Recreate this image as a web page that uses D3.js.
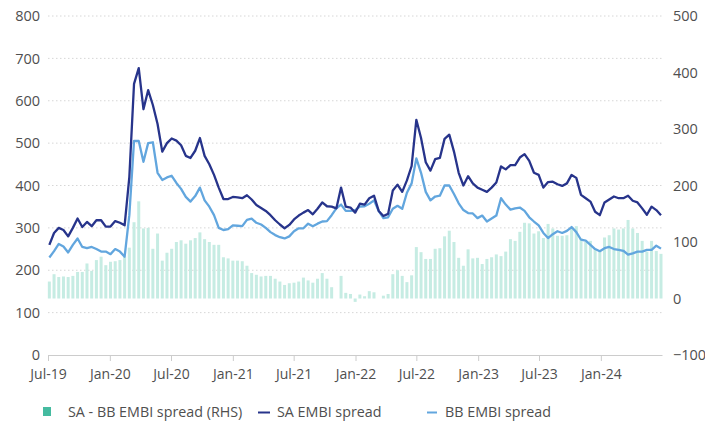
<!DOCTYPE html>
<html>
<head>
<meta charset="utf-8">
<script src="https://cdn.jsdelivr.net/npm/d3@7"></script>
<style>
  html, body { margin: 0; padding: 0; background: #ffffff; }
  svg { display: block; font-family: "Open Sans", "Noto Sans", sans-serif; }
</style>
</head>
<body>
<svg id="chart" width="705" height="426"></svg>
<script>
// ---- Data (bi-weekly observations, bp) ----
const startDate = new Date(2019, 6, 5);
const stepDays = 14;

const saSpread = [
  260,288,300,295,280,300,322,302,314,304,
  318,318,303,303,316,312,306,420,640,677,
  580,625,590,545,480,500,511,506,495,470,
  465,482,512,470,450,425,395,368,368,373,
  372,370,377,367,354,347,340,330,318,308,
  299,307,320,329,336,342,332,345,360,351,
  350,346,395,350,348,336,357,355,370,376,
  340,328,333,388,402,385,412,446,555,512,
  455,435,462,465,510,520,480,430,400,422,
  405,395,390,385,395,407,445,438,448,448,
  466,474,458,430,425,395,408,409,403,399,
  405,425,418,378,370,362,338,330,360,367,
  374,370,370,376,364,360,346,331,350,342,
  330
];

const bbSpread = [
  230,245,262,256,242,260,275,255,252,255,
  250,244,244,238,250,244,232,330,505,505,
  456,500,502,430,413,419,423,406,392,373,
  362,375,395,365,350,330,300,295,297,306,
  305,304,319,322,312,308,300,290,283,278,
  275,280,292,299,299,310,304,310,315,316,
  330,346,355,340,340,342,350,351,357,365,
  340,323,325,345,352,345,383,405,464,430,
  385,365,374,376,400,400,380,358,342,335,
  334,323,329,315,322,329,370,355,343,346,
  348,340,325,315,306,288,276,285,292,288,
  293,302,290,272,270,260,250,245,252,255,
  250,248,246,237,240,244,244,248,248,258,
  251
];

const xTickDates = ["2019-07-01","2020-01-01","2020-07-01","2021-01-01","2021-07-01",
                    "2022-01-01","2022-07-01","2023-01-01","2023-07-01","2024-01-01"];
const xTickLabels = ["Jul-19","Jan-20","Jul-20","Jan-21","Jul-21",
                     "Jan-22","Jul-22","Jan-23","Jul-23","Jan-24"];
const leftTicks = [0,100,200,300,400,500,600,700,800];
const rightTicks = [-100,0,100,200,300,400,500];
const legendLabels = ["SA - BB EMBI spread (RHS)", "SA EMBI spread", "BB EMBI spread"];

// ---- Derived ----
const dates = saSpread.map((_, i) => d3.timeDay.offset(startDate, stepDays * i));
const spreadDiff = saSpread.map((v, i) => v - bbSpread[i]); // SA - BB (RHS)

// ---- Layout ----
const svg = d3.select("#chart");
const plotLeft = 48, plotRight = 662, plotTop = 16, plotBottom = 355;

const parse = d3.utcParse("%Y-%m-%d");
const x = d3.scaleTime()
  .domain([new Date(2019, 6, 1), new Date(2024, 6, 1)])
  .range([plotLeft, plotRight]);
const yL = d3.scaleLinear().domain([0, 800]).range([plotBottom, plotTop]);
const yR = d3.scaleLinear().domain([-100, 500]).range([plotBottom, plotTop]);

const colSA = "#27348b";
const colBB = "#62a6de";
const colBar = "#c6ece3";
const colSwatch = "#45bba0";
const txt = "#4f4f4f";
const font = "'Open Sans', sans-serif";

// gridlines
svg.append("g").selectAll("line")
  .data(leftTicks.filter(d => d > 0))
  .join("line")
  .attr("x1", plotLeft).attr("x2", plotRight)
  .attr("y1", d => yL(d)).attr("y2", d => yL(d))
  .attr("stroke", "#d6d6d6").attr("stroke-width", 1)
  .attr("stroke-dasharray", "1.5,2.5");

// bars
svg.append("g").selectAll("rect")
  .data(spreadDiff.map((v, i) => ({ d: dates[i], v })))
  .join("rect")
  .attr("x", p => x(p.d) - 1.5)
  .attr("width", 3)
  .attr("y", p => yR(Math.max(p.v, 0)))
  .attr("height", p => Math.abs(yR(p.v) - yR(0)))
  .attr("fill", colBar);

// lines
const line = (arr, scale) => d3.line()
  .x((v, i) => x(dates[i]))
  .y(v => scale(v))
  .curve(d3.curveLinear)(arr);

svg.append("path").attr("d", line(bbSpread, yL))
  .attr("fill", "none").attr("stroke", colBB).attr("stroke-width", 2.3)
  .attr("stroke-linejoin", "round");
svg.append("path").attr("d", line(saSpread, yL))
  .attr("fill", "none").attr("stroke", colSA).attr("stroke-width", 2.3)
  .attr("stroke-linejoin", "round");

// x axis
const xTicks = xTickDates.map(s => { const d = parse(s); return new Date(d.getUTCFullYear(), d.getUTCMonth(), d.getUTCDate()); });
const xAxis = d3.axisBottom(x)
  .tickValues(xTicks)
  .tickFormat((d, i) => xTickLabels[i])
  .tickSize(6).tickSizeOuter(0).tickPadding(8);
const gx = svg.append("g").attr("transform", `translate(0,${plotBottom})`).call(xAxis);
gx.select(".domain").attr("stroke", "#cccccc");
gx.selectAll(".tick line").attr("stroke", "#cccccc");
gx.selectAll(".tick text").attr("fill", txt).style("font-size", "14px")
  .style("font-family", font);

// left axis
const gl = svg.append("g").attr("transform", `translate(${plotLeft - 8},0)`)
  .call(d3.axisLeft(yL).tickValues(leftTicks).tickSize(0).tickPadding(0));
gl.select(".domain").remove();
gl.selectAll(".tick text").attr("fill", txt).style("font-size", "14.5px")
  .style("font-family", font);

// right axis
const gr = svg.append("g").attr("transform", `translate(${plotRight + 11},0)`)
  .call(d3.axisRight(yR).tickValues(rightTicks).tickSize(0).tickPadding(0));
gr.select(".domain").remove();
gr.selectAll(".tick text").attr("fill", txt).style("font-size", "14.5px")
  .style("font-family", font);

// legend
const lg = svg.append("g").style("font-family", font).style("font-size", "14.3px");
lg.append("rect").attr("x", 43).attr("y", 407).attr("width", 8).attr("height", 9).attr("fill", colSwatch);
lg.append("text").attr("x", 68).attr("y", 417).attr("fill", txt).text(legendLabels[0]);
lg.append("line").attr("x1", 258).attr("x2", 270).attr("y1", 412.5).attr("y2", 412.5)
  .attr("stroke", colSA).attr("stroke-width", 2);
lg.append("text").attr("x", 277).attr("y", 417).attr("fill", txt).text(legendLabels[1]);
lg.append("line").attr("x1", 427).attr("x2", 437).attr("y1", 412.5).attr("y2", 412.5)
  .attr("stroke", colBB).attr("stroke-width", 2);
lg.append("text").attr("x", 445).attr("y", 417).attr("fill", txt).text(legendLabels[2]);
</script>
</body>
</html>
